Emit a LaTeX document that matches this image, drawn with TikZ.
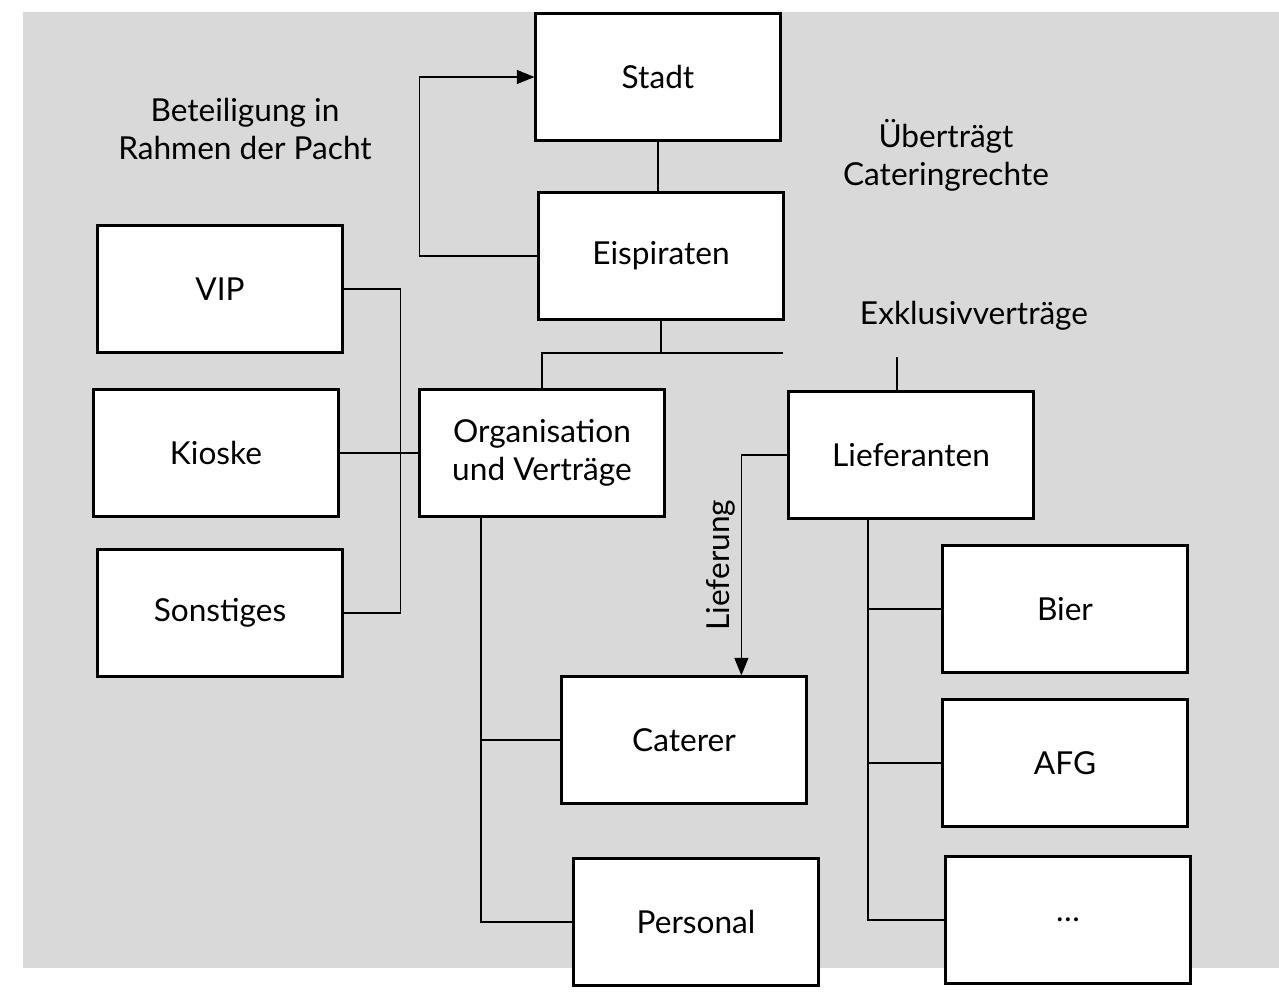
\documentclass[tikz,border=0pt]{standalone}
\usepackage{fontspec}
\setmainfont{Lato}
\usetikzlibrary{arrows.meta}
\definecolor{bggray}{RGB}{217,217,217}
\tikzset{
  box/.style={draw,line width=1.3pt,fill=white,minimum width=4.9cm,minimum height=2.54cm,align=center},
  lbl/.style={align=center},
  link/.style={line width=0.6pt}
}
\begin{document}
\begin{tikzpicture}[x=0.02cm,y=-0.02cm,>={Triangle[length=10pt,width=8pt]},font=\fontsize{18}{21.5}\selectfont]
\useasboundingbox (0,0) rectangle (1279,994);
\fill[bggray] (23,12) rectangle (1279,968);
% Stadt und Eispiraten
\node[box] (stadt) at (658,77) {Stadt};
\node[box] (eis) at (661,256) {Eispiraten};
\node[lbl] (beteil) at (245,129) {Beteiligung in\\Rahmen der Pacht};
\node[lbl] (uebertr) at (946,155) {Überträgt\\Cateringrechte};
\node[lbl] (exkl) at (974,316) {Exklusivverträge};
% zweite Ebene
\node[box] (org) at (542,453) {Organisation\\und Verträge};
\node[box] (lief) at (911,455) {Lieferanten};
\node[box] (vip) at (220,289) {VIP};
\node[box] (kiosk) at (216,453) {Kioske};
\node[box] (sonst) at (220,613) {Sonstiges};
\node[box] (cat) at (684,740) {Caterer};
\node[box] (pers) at (696,922) {Personal};
\node[box] (bier) at (1065,609) {Bier};
\node[box] (afg) at (1065,763) {AFG};
\node[box] (more) at (1068,920) {\dots};
\coordinate (gapend) at (783,353);
\coordinate (exk) at (897,357);
% Verbindungen
\draw[link] (stadt.south) -- (stadt.south |- eis.north);
\draw[link,->] (eis.west) -- ++(-118,0) |- (stadt.west);
\draw[link] (eis.south) -- (eis.south |- gapend);
\draw[link] (org.north) |- (gapend);
\draw[link] (exk) -- (exk |- lief.north);
\draw[link] (vip.east) -- ++(57,0) |- (sonst.east);
\draw[link] (kiosk.east) -- (org.west);
\draw[link] (org.south) ++(-61,0) |- (cat.west);
\draw[link] (org.south) ++(-61,0) |- (pers.west);
\draw[link,->] (lief.west) -- ++(-46,0) coordinate (lv) -- (lv |- cat.north)
  node[midway,rotate=90,anchor=south] (liefg) {Lieferung};
\draw[link] (lief.south) ++(-43,0) |- (bier.west);
\draw[link] (lief.south) ++(-43,0) |- (afg.west);
\draw[link] (lief.south) ++(-43,0) |- (more.west);
\end{tikzpicture}
\end{document}
